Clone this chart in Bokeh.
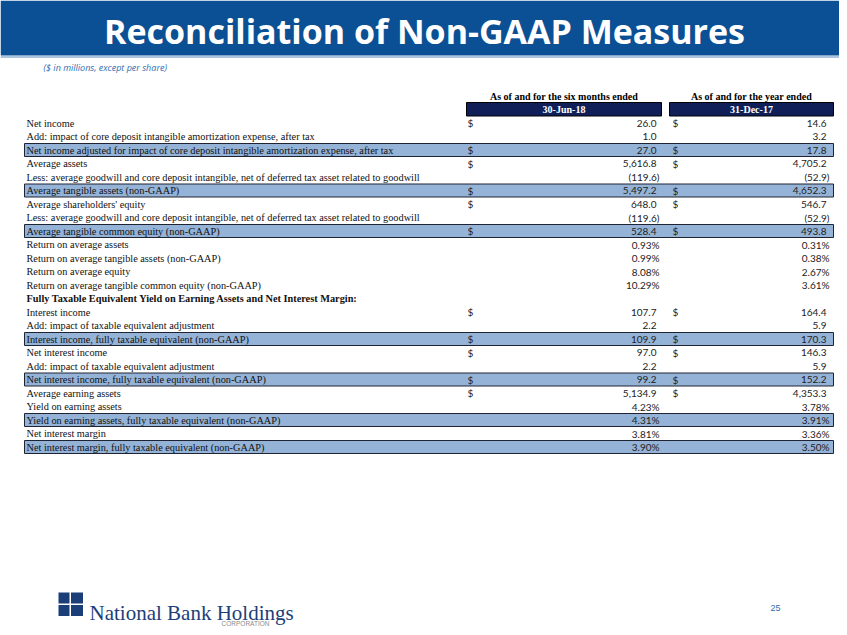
from bokeh.plotting import figure
from bokeh.models import Range1d, ColumnDataSource
from bokeh.core.properties import value
from bokeh.embed import file_html
from bokeh.resources import INLINE

# ---------------- data ----------------
title = "Reconciliation of Non-GAAP Measures"
subtitle = "($ in millions, except per share)"
col_headers = ["As of and for the six months ended", "As of and for the year ended"]
col_dates = ["30-Jun-18", "31-Dec-17"]

labels = [
    "Net income",
    "Add: impact of core deposit intangible amortization expense, after tax",
    "Net income adjusted for impact of core deposit intangible amortization expense, after tax",
    "Average assets",
    "Less: average goodwill and core deposit intangible, net of deferred tax asset related to goodwill",
    "Average tangible assets (non-GAAP)",
    "Average shareholders' equity",
    "Less: average goodwill and core deposit intangible, net of deferred tax asset related to goodwill",
    "Average tangible common equity (non-GAAP)",
    "Return on average assets",
    "Return on average tangible assets (non-GAAP)",
    "Return on average equity",
    "Return on average tangible common equity (non-GAAP)",
    "Fully Taxable Equivalent Yield on Earning Assets and Net Interest Margin:",
    "Interest income",
    "Add: impact of taxable equivalent adjustment",
    "Interest income, fully taxable equivalent (non-GAAP)",
    "Net interest income",
    "Add: impact of taxable equivalent adjustment",
    "Net interest income, fully taxable equivalent (non-GAAP)",
    "Average earning assets",
    "Yield on earning assets",
    "Yield on earning assets, fully taxable equivalent (non-GAAP)",
    "Net interest margin",
    "Net interest margin, fully taxable equivalent (non-GAAP)",
]
jun18 = [26.0, 1.0, 27.0, 5616.8, -119.6, 5497.2, 648.0, -119.6, 528.4,
         0.93, 0.99, 8.08, 10.29, None,
         107.7, 2.2, 109.9, 97.0, 2.2, 99.2, 5134.9, 4.23, 4.31, 3.81, 3.90]
dec17 = [14.6, 3.2, 17.8, 4705.2, -52.9, 4652.3, 546.7, -52.9, 493.8,
         0.31, 0.38, 2.67, 3.61, None,
         164.4, 5.9, 170.3, 146.3, 5.9, 152.2, 4353.3, 3.78, 3.91, 3.36, 3.50]
kind = ["$", "", "$", "$", "", "$", "$", "", "$",
        "%", "%", "%", "%", "head",
        "$", "", "$", "$", "", "$", "$", "%", "%", "%", "%"]
highlight = [0, 0, 1, 0, 0, 1, 0, 0, 1,
             0, 0, 0, 0, 0,
             0, 0, 1, 0, 0, 1, 0, 0, 1, 0, 1]
page_number = "25"

# ---------------- layout constants ----------------
W, H = 839, 627
ROW0, ROWH = 122.5, 13.5
LBL_X = 26
HL_L, HL_R = 24, 833
DOLLAR_X = [467, 672]
VAL_R = [659, 829]
BOX = [(466, 661), (669, 833)]

BAND = "#0B5094"
NAVY = "#101F58"
HL = "#95B3D7"

def fmt(v, k):
    if v is None:
        return ""
    if k == "%":
        return f"{v:.2f}%"
    if v < 0:
        return f"({-v:,.1f})"
    return f"{v:,.1f}"

p = figure(width=W, height=H, x_range=Range1d(0, W), y_range=Range1d(H, 0),
           output_backend="svg", toolbar_location=None,
           x_axis_location=None, y_axis_location=None, min_border=0)
p.grid.visible = False
p.outline_line_color = None
p.background_fill_color = "white"

# title band
p.quad(left=[0], right=[W], top=[0], bottom=[55], fill_color=BAND, line_color=None)
p.segment(x0=[0], x1=[W], y0=[56.5], y1=[56.5], line_color="#8FB0D6", line_width=1.5)
p.text(x=[424], y=[30], text=[title], text_color="white", text_align="center",
       text_baseline="middle", text_font=value("Open Sans"), text_font_style="bold",
       text_font_size="34px")
p.text(x=[43], y=[67], text=[subtitle], text_color="#2F6DB0", text_align="left",
       text_baseline="middle", text_font=value("Open Sans"), text_font_style="italic",
       text_font_size="9px")

# column headers
for i in range(2):
    l, r = BOX[i]
    c = (l + r) / 2
    p.text(x=[c], y=[96], text=[col_headers[i]], text_color="black", text_align="center",
           text_baseline="middle", text_font=value("Liberation Serif"),
           text_font_style="bold", text_font_size="10px")
    p.quad(left=[l], right=[r], top=[102], bottom=[115.5], fill_color=NAVY,
           line_color="black", line_width=1)
    p.text(x=[c], y=[109], text=[col_dates[i]], text_color="white", text_align="center",
           text_baseline="middle", text_font=value("Liberation Serif"),
           text_font_style="bold", text_font_size="10px")

# rows
n = len(labels)
ys = [ROW0 + ROWH * i for i in range(n)]
hl_idx = [i for i in range(n) if highlight[i]]
p.quad(left=[HL_L] * len(hl_idx), right=[HL_R] * len(hl_idx),
       top=[ys[i] - 6.5 for i in hl_idx], bottom=[ys[i] + 6.5 for i in hl_idx],
       fill_color=HL, line_color="#1E2433", line_width=1)

norm = [i for i in range(n) if kind[i] != "head"]
p.text(x=[LBL_X] * len(norm), y=[ys[i] for i in norm], text=[labels[i] for i in norm],
       text_color="#111111", text_align="left", text_baseline="middle",
       text_font=value("Liberation Serif"), text_font_size="10.3px")
heads = [i for i in range(n) if kind[i] == "head"]
p.text(x=[LBL_X] * len(heads), y=[ys[i] for i in heads], text=[labels[i] for i in heads],
       text_color="#111111", text_align="left", text_baseline="middle",
       text_font=value("Liberation Serif"), text_font_style="bold", text_font_size="10.3px")

for c, vals in enumerate([jun18, dec17]):
    dol = [i for i in range(n) if kind[i] == "$"]
    p.text(x=[DOLLAR_X[c]] * len(dol), y=[ys[i] for i in dol], text=["$"] * len(dol),
           text_color="#222222", text_align="left", text_baseline="middle",
           text_font=value("Lato"), text_font_size="10px")
    idx = [i for i in range(n) if vals[i] is not None]
    txt = [fmt(vals[i], kind[i]) for i in idx]
    xs = [VAL_R[c] - (0 if (t.startswith("(") or t.endswith("%")) else 3) for t in txt]
    src = ColumnDataSource(dict(x=xs, y=[ys[i] for i in idx], t=txt))
    p.text(x="x", y="y", text="t", source=src, text_color="#222222", text_align="right",
           text_baseline="middle", text_font=value("Lato"), text_font_size="10px")

# footer logo
LOGO = "#1C3E78"
p.quad(left=[58, 70.5, 58, 70.5], right=[69, 82.5, 69, 82.5],
       top=[592, 592, 604.5, 604.5], bottom=[603, 603, 615.5, 615.5],
       fill_color=LOGO, line_color=None)
p.text(x=[89], y=[612], text=["National Bank Holdings"], text_color=LOGO,
       text_align="left", text_baseline="alphabetic", text_font=value("Liberation Serif"),
       text_font_size="21px")
p.text(x=[245], y=[623], text=["CORPORATION"], text_color="#8C8C8C", text_align="center",
       text_baseline="middle", text_font=value("Liberation Sans"), text_font_size="6.5px")
p.text(x=[775], y=[607], text=[page_number], text_color="#2F6DB0", text_align="center",
       text_baseline="middle", text_font=value("Liberation Sans"), text_font_size="9px")

open("out.html", "w").write(file_html(p, INLINE))
